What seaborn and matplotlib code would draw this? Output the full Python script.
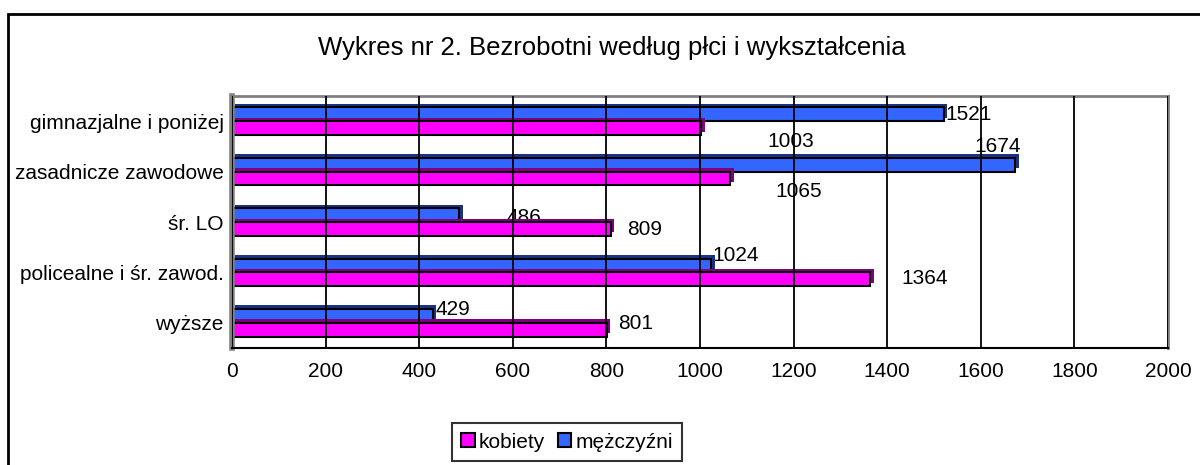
import pandas as pd
import matplotlib.pyplot as plt
import matplotlib.patheffects as pe
from matplotlib.patches import Rectangle, Patch
import seaborn as sns

# data
categories = ['gimnazjalne i poniżej', 'zasadnicze zawodowe', 'śr. LO',
              'policealne i śr. zawod.', 'wyższe']
kobiety = [1003, 1065, 809, 1364, 801]
mezczyzni = [1521, 1674, 486, 1024, 429]
x_ticks = [0, 200, 400, 600, 800, 1000, 1200, 1400, 1600, 1800, 2000]

# label offsets (value units, category units) to mimic the original placement
off_m = [(4, -0.136), (-88, -0.507), (100, -0.09), (3, -0.33), (5, -0.27)]
off_k = [(141, 0.41), (96, 0.40), (35, 0.14), (67, 0.13), (23, 0.01)]

df = pd.DataFrame({
    'kategoria': categories * 2,
    'liczba': mezczyzni + kobiety,
    'plec': ['mężczyźni'] * len(categories) + ['kobiety'] * len(categories),
})

colors = {'kobiety': '#FF00FF', 'mężczyźni': '#3366FF'}
dark = {'kobiety': '#800080', 'mężczyźni': '#1A3380'}
FS = 15

sns.set_style('white')
plt.rcParams['font.family'] = ['Liberation Sans', 'DejaVu Sans']
plt.rcParams['text.color'] = 'black'
plt.rcParams['xtick.color'] = 'black'
plt.rcParams['ytick.color'] = 'black'
plt.rcParams['xtick.labelcolor'] = 'black'
plt.rcParams['ytick.labelcolor'] = 'black'

fig = plt.figure(figsize=(12, 4.65), dpi=100)
ax = fig.add_axes([232 / 1200, 1 - 348 / 465, 936 / 1200, 252 / 465])

sns.barplot(data=df, y='kategoria', x='liczba', hue='plec', orient='h',
            hue_order=['mężczyźni', 'kobiety'], palette=colors, saturation=1,
            width=0.55, edgecolor='black', linewidth=1.5, legend=False, ax=ax)

# fake 3D depth on bars
for cont, key in zip(ax.containers, ['mężczyźni', 'kobiety']):
    for bar in cont:
        bar.set_zorder(2)
        bar.set_path_effects([
            pe.SimplePatchShadow(offset=(2.5, 2.5), shadow_rgbFace=dark[key], alpha=1),
            pe.Normal()])

ax.set_xlim(0, 2000)
ax.set_ylim(4.5, -0.5)
ax.set_xticks(x_ticks)
ax.set_xticklabels([str(t) for t in x_ticks], fontsize=FS)
ax.tick_params(axis='x', length=5, width=1.2, color='black', direction='out', pad=5)
ax.tick_params(axis='y', which='major', length=0, labelsize=FS, pad=6)
ax.set_yticks([i - 0.5 for i in range(len(categories) + 1)], minor=True)
ax.tick_params(axis='y', which='minor', length=4, width=1.5, color='black')
ax.set_axisbelow(False)
ax.xaxis.grid(True, color='black', linewidth=1.3)
ax.set_xlabel('')
ax.set_ylabel('')

for side in ['top', 'right']:
    ax.spines[side].set_color('#808080')
    ax.spines[side].set_linewidth(2)
ax.spines['left'].set_color('#808080')
ax.spines['left'].set_linewidth(4)
ax.spines['bottom'].set_color('black')
ax.spines['bottom'].set_linewidth(1.5)

# value labels (drawn under grid lines and bars, like the original)
for i in range(len(categories)):
    ax.text(mezczyzni[i] + off_m[i][0], i + off_m[i][1], str(mezczyzni[i]),
            fontsize=FS, va='center', ha='left', zorder=0.5)
    ax.text(kobiety[i] + off_k[i][0], i + off_k[i][1], str(kobiety[i]),
            fontsize=FS, va='center', ha='left', zorder=0.5)
for ln in ax.get_xgridlines():
    ln.set_zorder(1)

fig.text(0.51, 1 - 48 / 465, 'Wykres nr 2. Bezrobotni według płci i wykształcenia',
         ha='center', va='center', fontsize=18.5)

handles = [Patch(facecolor=colors['kobiety'], edgecolor='black', linewidth=1.5, label='kobiety'),
           Patch(facecolor=colors['mężczyźni'], edgecolor='black', linewidth=1.5, label='mężczyźni')]
leg = fig.legend(handles=handles, loc='center', bbox_to_anchor=(567 / 1200, 1 - 442 / 465),
                 ncol=2, fontsize=FS, frameon=True, fancybox=False,
                 handlelength=0.65, handleheight=0.65, handletextpad=0.2,
                 columnspacing=0.6, borderpad=0.45)
leg.get_frame().set_edgecolor('black')
leg.get_frame().set_linewidth(1.5)

# outer chart frame (only left and top edges are visible in the original)
fig.patches.append(Rectangle((8 / 1200, -0.05), 1.1, 1 - 14 / 465 + 0.05,
                             transform=fig.transFigure, fill=False,
                             edgecolor='black', linewidth=2))

fig.savefig('out.png', dpi=100)
